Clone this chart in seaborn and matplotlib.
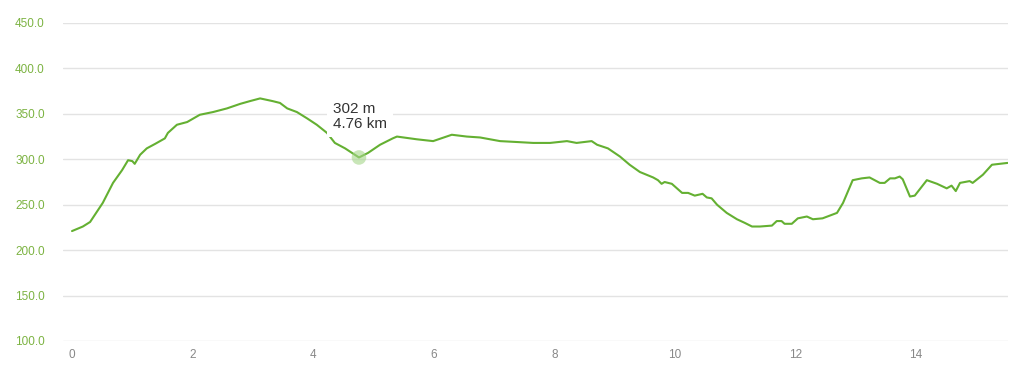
import matplotlib
matplotlib.use("Agg")
import matplotlib.pyplot as plt
import seaborn as sns
import pandas as pd

distance_km = [0.00, 0.18, 0.30, 0.51, 0.68, 0.83, 0.93, 1.00, 1.04, 1.13, 1.24, 1.38, 1.54, 1.59,
               1.74, 1.91, 2.12, 2.34, 2.57, 2.79, 2.95, 3.12, 3.33, 3.45, 3.57, 3.73, 3.90, 4.06,
               4.23, 4.36, 4.53, 4.76, 4.91, 5.11, 5.32, 5.39, 5.72, 5.99, 6.30, 6.55, 6.77, 7.10,
               7.38, 7.65, 7.93, 8.21, 8.37, 8.62, 8.71, 8.89, 9.09, 9.25, 9.42, 9.64, 9.72, 9.78,
               9.83, 9.95, 10.12, 10.22, 10.33, 10.46, 10.53, 10.61, 10.70, 10.86, 11.03, 11.16,
               11.28, 11.41, 11.61, 11.69, 11.77, 11.82, 11.94, 12.04, 12.19, 12.29, 12.45, 12.57,
               12.69, 12.79, 12.95, 13.10, 13.23, 13.40, 13.48, 13.57, 13.65, 13.73, 13.78, 13.90,
               13.98, 14.18, 14.35, 14.51, 14.59, 14.66, 14.73, 14.89, 14.94, 15.11, 15.26, 15.39,
               15.52]
elevation_m = [221, 226, 231, 252, 274, 288, 299, 298, 295, 305, 312, 317, 323, 329,
               338, 341, 349, 352, 356, 361, 364, 367, 364, 362, 356, 352, 345, 338,
               329, 318, 312, 302, 307, 316, 323, 325, 322, 320, 327, 325, 324, 320,
               319, 318, 318, 320, 318, 320, 316, 312, 303, 294, 286, 280, 277, 273,
               275, 273, 263, 263, 260, 262, 258, 257, 250, 241, 234, 230,
               226, 226, 227, 232, 232, 229, 229, 235, 237, 234, 235, 238,
               241, 252, 277, 279, 280, 274, 274, 279, 279, 281, 278, 259,
               260, 277, 273, 268, 271, 265, 274, 276, 274, 283, 294, 295,
               296]

y_ticks = [100, 150, 200, 250, 300, 350, 400, 450]
y_tick_labels = ["100.0", "150.0", "200.0", "250.0", "300.0", "350.0", "400.0", "450.0"]
x_ticks = [0, 2, 4, 6, 8, 10, 12, 14]
x_tick_labels = ["0", "2", "4", "6", "8", "10", "12", "14"]

hover_km = 4.76
hover_m = 302
hover_label = "302 m\n4.76 km"

df = pd.DataFrame({"km": distance_km, "m": elevation_m})

sns.set_style("white")
plt.rcParams["font.family"] = ["Liberation Sans", "DejaVu Sans"]

fig = plt.figure(figsize=(10.24, 3.77), dpi=100)
ax = fig.add_axes([0.0615, 0.0955, 0.9225, 0.8435])

sns.lineplot(data=df, x="km", y="m", ax=ax, color="#64b032", linewidth=1.5, zorder=3)
ax.scatter([hover_km], [hover_m], s=110, color="#a5d68a", alpha=0.6, zorder=4, edgecolors="none")
ax.text(4.33, 363, hover_label, fontsize=11, color="#333333", va="top", ha="left",
        linespacing=1.05, zorder=5,
        bbox=dict(boxstyle="square,pad=0.4", facecolor="white", edgecolor="none"))

ax.set_xlim(-0.15, 15.52)
ax.set_ylim(100, 450)
ax.set_yticks(y_ticks)
ax.set_yticklabels(y_tick_labels)
ax.set_xticks(x_ticks)
ax.set_xticklabels(x_tick_labels)
ax.set_xlabel("")
ax.set_ylabel("")
ax.grid(axis="y", color="#e3e3e3", linewidth=1)
ax.grid(axis="x", visible=False)
for s in ax.spines.values():
    s.set_visible(False)
ax.tick_params(axis="y", length=0, pad=13, labelsize=8.5, labelcolor="#7cb342")
ax.tick_params(axis="x", length=0, pad=6, labelsize=8.5, labelcolor="#888888")

fig.savefig("out.png", dpi=100)
